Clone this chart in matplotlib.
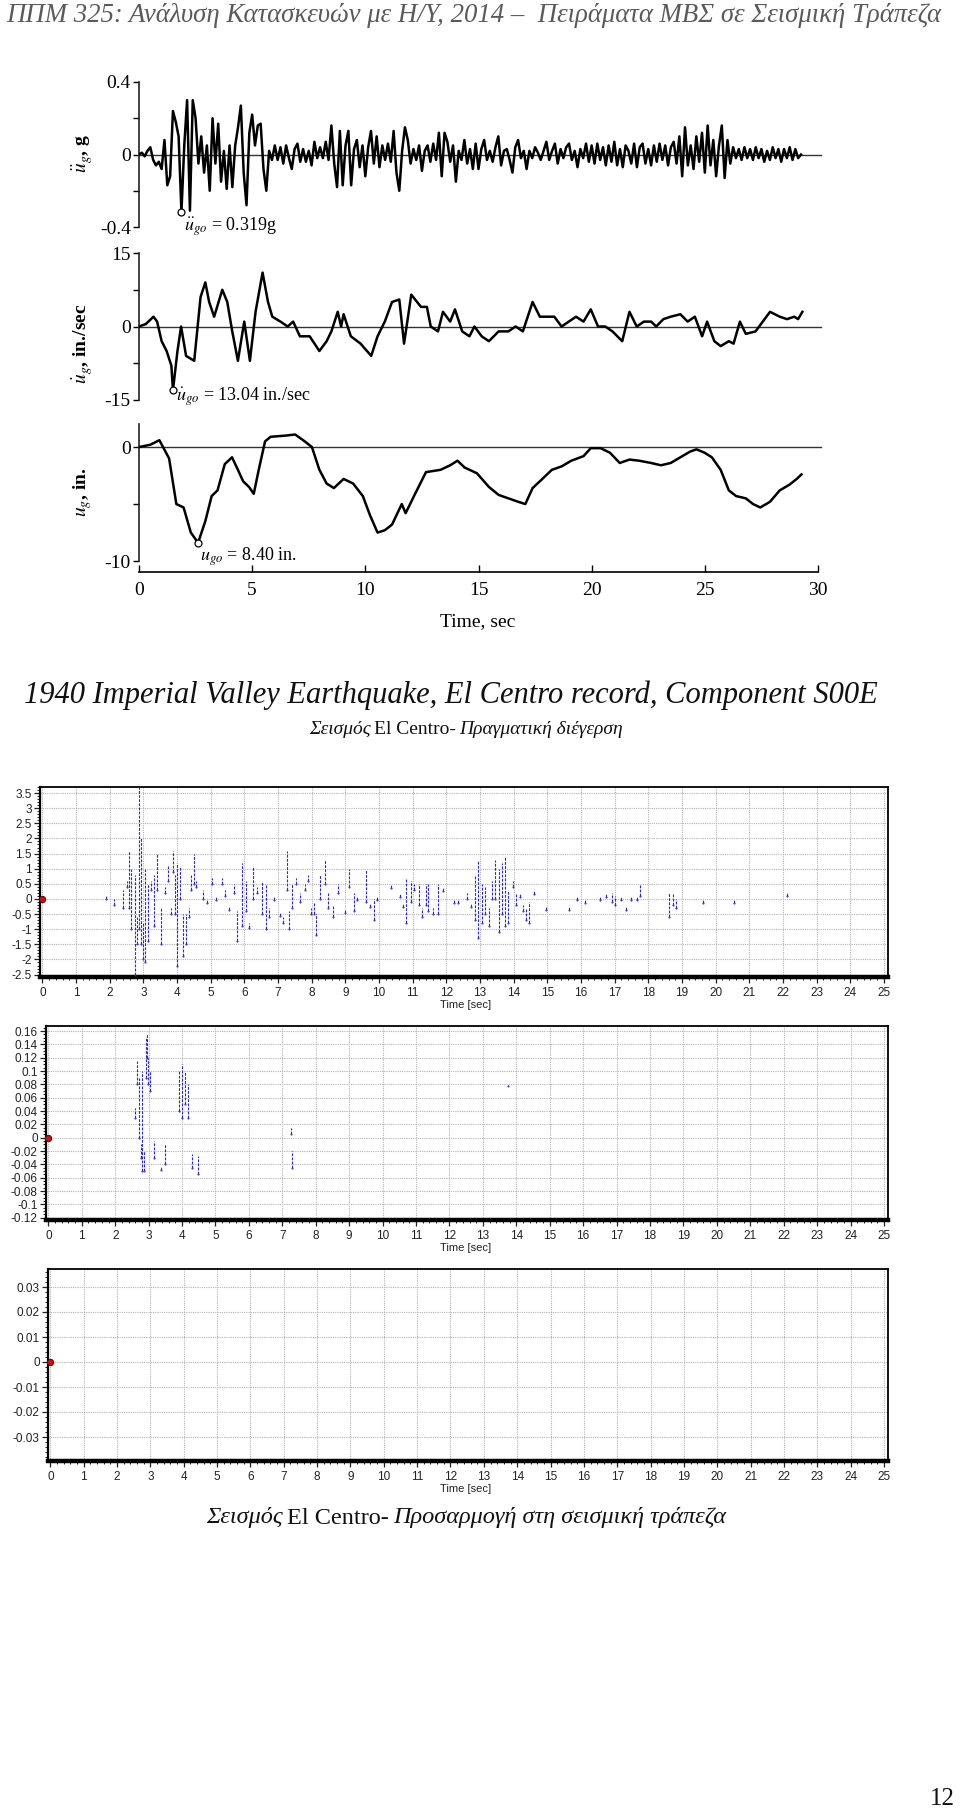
import matplotlib
matplotlib.use("Agg")
import matplotlib.pyplot as plt
import numpy as np
from matplotlib.ticker import MultipleLocator, FixedLocator

W, H = 960, 1811

HEADER = "ΠΠΜ 325: Ανάλυση Κατασκευών με Η/Υ, 2014 –  Πειράματα ΜΒΣ σε Σεισμική Τράπεζα"
CAPTION = "1940 Imperial Valley Earthquake, El Centro record, Component S00E"
SUB_TOP = [("Σεισμός", "italic"), ("El Centro-", "normal"), ("Πραγματική διέγερση", "italic")]
SUB_BOTTOM = [("Σεισμός", "italic"), ("El Centro-", "normal"), ("Προσαρμογή στη σεισμική τράπεζα", "italic")]
PAGE_NO = "12"

# ground acceleration (g), sampled every 0.125 s
acc_dt = 0.125
acc_g = [
    0.0, 0.01, -0.01, 0.02, 0.04, -0.03, -0.06, -0.04,
    -0.08, 0.08, -0.17, -0.12, 0.24, 0.18, 0.10, -0.319,
    0.05, 0.30, -0.31, 0.30, 0.20, -0.05, 0.10, -0.10,
    0.05, -0.20, 0.20, -0.05, 0.17, -0.15, 0.02, -0.19,
    0.05, -0.18, 0.05, 0.15, 0.27, -0.10, -0.28, 0.12,
    0.22, 0.05, 0.16, 0.17, -0.08, -0.20, 0.02, -0.03,
    0.05, -0.03, 0.04, -0.05, 0.05, -0.02, -0.08, 0.03,
    0.06, -0.04, 0.03, -0.04, 0.02, -0.06, 0.07, -0.02,
    0.04, -0.02, 0.07, -0.03, 0.16, -0.05, -0.18, 0.13,
    -0.17, 0.05, 0.13, -0.17, 0.03, 0.08, -0.07, 0.05,
    -0.12, 0.04, 0.13, -0.05, 0.10, -0.07, 0.05, -0.03,
    0.06, -0.04, 0.13, -0.10, -0.20, 0.02, 0.15, 0.08,
    -0.05, 0.03, -0.03, 0.05, -0.09, 0.02, 0.05, -0.04,
    0.06, -0.03, 0.12, -0.12, 0.12, 0.07, -0.04, 0.05,
    -0.15, 0.02, -0.03, 0.08, -0.05, 0.03, -0.08, 0.06,
    -0.08, 0.03, 0.08, -0.03, 0.02, -0.04, 0.04, 0.10,
    -0.06, 0.02, 0.03, -0.03, -0.10, 0.04, 0.08, -0.02,
    0.02, -0.08, 0.02, -0.02, 0.04, 0.01, -0.03, 0.02,
    0.07, -0.03, 0.02, 0.06, -0.05, 0.03, -0.02, 0.04,
    0.06, -0.03, 0.02, -0.07, 0.03, -0.02, 0.06, -0.04,
    0.05, -0.05, 0.06, -0.03, 0.04, -0.06, 0.05, -0.04,
    0.07, -0.06, 0.03, -0.07, 0.05, 0.02, -0.05, 0.06,
    -0.07, 0.04, 0.06, -0.05, 0.03, -0.06, 0.05, -0.04,
    0.06, -0.03, 0.05, -0.06, 0.04, 0.07, -0.05, 0.10,
    -0.12, 0.15, -0.06, 0.05, -0.08, 0.10, -0.04, 0.12,
    -0.10, 0.16, -0.06, 0.08, -0.12, 0.05, 0.16, -0.13,
    0.08, -0.05, 0.04, -0.02, 0.03, -0.03, 0.04, -0.02,
    0.03, -0.03, 0.04, -0.02, 0.03, -0.04, 0.02, -0.03,
    0.04, -0.02, 0.03, -0.04, 0.03, -0.02, 0.04, -0.03,
    0.03, -0.02, 0.0,
]

# ground velocity (in./sec)
vel_t = [0, 0.3, 0.64, 0.8, 1.0, 1.22, 1.43, 1.5, 1.7, 1.86, 2.08, 2.44, 2.72, 2.93,
         3.1, 3.32, 3.68, 3.9, 4.12, 4.37, 4.65, 4.9, 5.15, 5.46, 5.7, 5.89, 6.25,
         6.57, 6.81, 7.11, 7.54, 7.97, 8.29, 8.5, 8.78, 8.93, 9.04, 9.36, 9.79, 10.26,
         10.54, 10.86, 11.18, 11.5, 11.71, 12.03, 12.46, 12.72, 12.89, 13.21, 13.43,
         13.75, 13.96, 14.28, 14.6, 14.82, 15.14, 15.46, 15.89, 16.32, 16.64, 16.96,
         17.39, 17.71, 18.03, 18.35, 18.67, 18.99, 19.31, 19.64, 19.96, 20.28, 20.6,
         20.92, 21.35, 21.67, 21.99, 22.31, 22.63, 22.85, 23.17, 23.49, 23.92, 24.24,
         24.56, 24.88, 25.1, 25.42, 25.7, 26.06, 26.27, 26.55, 26.81, 27.24, 27.56,
         27.88, 28.31, 28.63, 28.95, 29.12, 29.31]
vel_in = [0, 0.5, 2, 1, -3, -5, -8, -13.04, -5, 0, -6, -7, 6, 9,
          5, 2, 7.5, 5, -1, -7, 1, -7, 3, 11, 5, 2, 1,
          0, 1, -2, -2, -5, -3, -1, 3, 0, 2.5, -2, -3.5, -6,
          -2, 1, 5, 5.5, -3.5, 6.5, 4, 4, 0, -1, 3,
          1, 3.5, -1, -2, 0, -2, -3, -1, -1, 0, -1,
          5, 2, 2, 2, 0, 1, 2, 1, 3.5, 0, 0,
          -1, -3, 3, 0, 1, 1, 0, 1.5, 2, 2.5, 1,
          2, -2, 1, -3, -4, -3, -3.5, 1, -1.5, -1, 1,
          3, 2, 1.5, 2, 1.5, 3]

# ground displacement (in.)
disp_t = [0, 0.5, 0.9, 1.33, 1.65, 1.97, 2.29, 2.61, 2.93, 3.21, 3.47, 3.79, 4.11,
          4.37, 4.6, 4.86, 5.07, 5.29, 5.57, 5.82, 6.47, 6.9, 7.32, 7.64, 7.97, 8.29,
          8.61, 9.04, 9.46, 9.89, 10.21, 10.54, 10.86, 11.18, 11.61, 11.78, 12.25,
          12.68, 13.32, 13.75, 14.07, 14.39, 14.93, 15.46, 15.89, 16.32, 16.75, 17.07,
          17.39, 17.82, 18.24, 18.67, 19.1, 19.64, 19.96, 20.39, 20.81, 21.24, 21.67,
          22.1, 22.63, 23.06, 23.49, 23.92, 24.35, 24.63, 24.99, 25.31, 25.7, 26.06,
          26.38, 26.81, 27.13, 27.45, 27.88, 28.31, 28.74, 29.06, 29.27]
disp_in = [0, 0.2, 0.6, -1.0, -5.0, -5.3, -7.5, -8.40, -6.5, -4.3, -3.8, -1.5, -0.9,
           -2.0, -3.0, -3.5, -4.1, -2.0, 0.5, 0.9, 1.0, 1.1, 0.5, 0.0, -2.0, -3.2,
           -3.6, -2.8, -3.2, -4.3, -6.0, -7.5, -7.3, -6.8, -5.0, -5.8, -3.9,
           -2.2, -2.0, -1.6, -1.2, -1.8, -2.3, -3.5, -4.2, -4.5, -4.8, -5.0,
           -3.6, -2.8, -2.0, -1.7, -1.2, -0.8, -0.1, -0.1, -0.5, -1.4, -1.1,
           -1.2, -1.4, -1.6, -1.4, -0.9, -0.4, -0.2, -0.5, -0.9, -2.0, -3.8,
           -4.3, -4.5, -5.0, -5.3, -4.8, -3.8, -3.3, -2.8, -2.4]

# shake table record 1: visible trace pieces (time, low, high)
rec1_t = [1.9, 2.14, 2.41, 2.5, 2.56, 2.63, 2.74, 2.81, 2.87, 2.94, 2.99, 3.05, 3.14, 3.23,
          3.32, 3.41, 3.51, 3.65, 3.74, 3.82, 3.87, 3.93, 4.0, 4.09, 4.18, 4.27, 4.36,
          4.42, 4.49, 4.57, 4.78, 4.88, 5.04, 5.15, 5.33, 5.42, 5.55, 5.7, 5.79, 5.93,
          6.06, 6.15, 6.25, 6.39, 6.52, 6.65, 6.74, 6.88, 7.07, 7.16, 7.27, 7.34, 7.43,
          7.52, 7.65, 7.8, 7.89, 7.98, 8.07, 8.14, 8.25, 8.4, 8.49, 8.62, 8.77, 8.98,
          9.11, 9.26, 9.35, 9.62, 9.72, 9.84, 9.93, 10.35, 10.63, 10.72, 10.81, 10.94,
          11.03, 11.18, 11.29, 11.39, 11.47, 11.6, 11.76, 11.91, 12.24, 12.36, 12.6,
          12.73, 12.86, 12.95, 13.06, 13.15, 13.28, 13.37, 13.46, 13.55, 13.64, 13.73,
          13.82, 13.97, 14.06, 14.19, 14.28, 14.37, 14.46, 14.61, 14.97, 15.63, 15.87,
          16.11, 16.56, 16.75, 16.93, 17.02, 17.2, 17.33, 17.48, 17.66, 17.75, 18.61,
          18.72, 18.81, 19.61, 20.54, 22.13]
rec1_lo = [0.0, -0.2, -0.3, 0.4, -0.3, -1.0, -2.5, -1.5, -1.0, -1.5, -2.0, -2.1, -1.4, 0.3,
           -0.9, 0.3, -1.5, 0.2, 0.6, -0.5, 0.9, -0.5, -2.2, 0.0, -1.9, -1.5, -0.6,
           0.3, 0.5, 0.4, 0.0, -0.15, 0.5, -0.05, 0.5, 0.1, -0.35, 0.2, -1.4, -0.9,
           -0.4, -0.95, 0.0, 0.2, -0.5, -1.0, -0.6, -0.05, -0.55, -0.8, 0.3, -1.0, -0.3,
           0.5, -0.1, 0.3, 0.6, -0.5, -0.5, -1.2, 0.0, 0.5, -0.3, -0.6, 0.2, -0.45,
           0.4, -0.4, -0.05, -0.1, -0.25, -0.7, -0.05, 0.35, 0.05, -0.25, -0.8, -0.1,
           0.3, -0.2, -0.6, -0.2, -0.4, -0.5, -0.5, 0.25, -0.15, -0.15, 0.0,
           -0.25, -0.7, -1.3, -0.8, -0.5, -0.9, 0.0, 0.0, -1.1, -0.5, -0.9,
           -0.8, 0.4, -0.2, 0.05, -0.4, -0.7, -0.8, 0.15, -0.35, -0.35, -0.05,
           -0.15, -0.05, 0.05, -0.1, -0.2, -0.05, -0.35, -0.05, -0.05, 0.1, -0.6,
           -0.2, -0.3, -0.15, -0.15, 0.1]
rec1_hi = [0.1, 0.0, 0.3, 0.6, 1.6, 1.0, 0.8, -0.6, 3.7, 2.0, -0.8, 1.0, 0.5, 0.6,
           0.8, 1.5, -0.3, 0.4, 1.1, -0.3, 1.6, 0.8, 1.2, 1.1, -0.5, -0.5, -0.3,
           0.8, 1.5, 0.6, 0.3, -0.05, 0.7, 0.05, 0.7, 0.3, -0.25, 0.5, -0.4, 1.2,
           0.6, -0.8, 1.1, 0.4, 0.6, 0.5, -0.3, 0.05, -0.45, -0.6, 1.6, -0.4, 0.5,
           0.7, 0.2, 0.5, 0.8, -0.3, -0.1, -0.5, 0.8, 1.3, 0.2, -0.2, 0.5, -0.35,
           1.0, 0.2, 0.05, 1.0, -0.15, 0.0, 0.05, 0.45, 0.15, -0.15, 0.7, 0.6,
           0.5, 0.5, -0.3, 0.5, 0.5, -0.3, 0.5, 0.35, -0.05, -0.05, 0.2,
           -0.15, 0.8, 1.3, 0.5, 0.4, -0.3, 0.6, 1.3, 1.0, 1.2, 1.4,
           0.3, 0.6, 0.2, 0.15, -0.2, -0.3, -0.1, 0.25, -0.25, -0.25, 0.05,
           -0.05, 0.05, 0.15, 0.2, 0.1, 0.05, -0.25, 0.05, 0.05, 0.5, 0.2,
           0.2, 0.0, -0.05, 0.0, 0.2]

# shake table record 2: visible trace pieces (time, low, high)
rec2_t = [2.58, 2.65, 2.72, 2.76, 2.8, 2.85, 2.91, 2.94, 2.98, 3.04, 3.15, 3.38, 3.5,
          3.9, 3.99, 4.08, 4.18, 4.29, 4.47, 7.27, 7.28, 13.76]
rec2_lo = [0.03, 0.08, 0.0, -0.03, -0.05, -0.05, 0.09, 0.12, 0.08, 0.07, -0.03, -0.048, -0.04,
           0.04, 0.03, 0.05, 0.03, -0.045, -0.055, 0.005, -0.045, 0.077]
rec2_hi = [0.045, 0.115, 0.09, -0.01, 0.10, -0.02, 0.15, 0.155, 0.12, 0.10, -0.005, -0.042, -0.01,
           0.10, 0.11, 0.10, 0.08, -0.025, -0.028, 0.015, -0.02, 0.079]

start_t = [0.0]
start_v = [0.0]

rec_yticks = [
    [-2.5, -2, -1.5, -1, -0.5, 0, 0.5, 1, 1.5, 2, 2.5, 3, 3.5],
    [-0.12, -0.1, -0.08, -0.06, -0.04, -0.02, 0, 0.02, 0.04, 0.06, 0.08, 0.1, 0.12, 0.14, 0.16],
    [-0.03, -0.02, -0.01, 0, 0.01, 0.02, 0.03],
]
rec_ylabels = [
    ["-2.5", "-2", "-1.5", "-1", "-0.5", "0", "0.5", "1", "1.5", "2", "2.5", "3", "3.5"],
    ["-0.12", "-0.1", "-0.08", "-0.06", "-0.04", "-0.02", "0", "0.02", "0.04", "0.06",
     "0.08", "0.1", "0.12", "0.14", "0.16"],
    ["-0.03", "-0.02", "-0.01", "0", "0.01", "0.02", "0.03"],
]

plt.rcParams.update({
    "font.family": ["Liberation Serif", "DejaVu Serif"],
    "mathtext.fontset": "stix",
    "axes.linewidth": 1.2,
})

BLUE = "#2a2ac0"
SANS = ["Liberation Sans Narrow", "Liberation Sans", "DejaVu Sans"]

fig = plt.figure(figsize=(W / 100, H / 100), dpi=100, facecolor="white")
renderer = fig.canvas.get_renderer()


def add_ax(left, top, right, bottom):
    return fig.add_axes([left / W, 1 - bottom / H, (right - left) / W, (bottom - top) / H])


def text_runs(runs, cx, cy, size):
    objs = []
    for s, style in runs:
        objs.append(fig.text(0, 1 - cy / H, s, fontsize=size, style=style,
                             va="center", ha="left", color="#111111"))
    widths = [o.get_window_extent(renderer).width for o in objs]
    gap = size * 0.25
    x = cx - (sum(widths) + gap * (len(objs) - 1)) / 2
    for o, w in zip(objs, widths):
        o.set_x(x / W)
        x += w + gap


# header line
fig.text(6 / W, 1 - 15 / H, HEADER, fontsize=19.3, style="italic", color="#5a5a5a",
         va="center", ha="left")

# ---------- top: Chopra style record ----------
acc_t = np.arange(len(acc_g)) * acc_dt
panels = [
    (add_ax(139, 82, 818, 227), acc_t, acc_g, (-0.4, 0.4),
     [-0.4, -0.2, 0, 0.2, 0.4], ["-0.4", "", "0", "", "0.4"]),
    (add_ax(139, 253, 818, 400), vel_t, vel_in, (-15, 15),
     [-15, -7.5, 0, 7.5, 15], ["-15", "", "0", "", "15"]),
    (add_ax(139, 424, 818, 572), disp_t, disp_in, (-10.96, 2.02),
     [-10, -5, 0], ["-10", "", "0"]),
]
for i, (ax, t, v, ylim, yt, yl) in enumerate(panels):
    ax.plot(t, v, color="black", lw=1.8, zorder=3)
    ax.axhline(0, xmin=0, xmax=1.005, color="#333333", lw=1.0, clip_on=False, zorder=2)
    ax.set_xlim(0, 30)
    ax.set_ylim(*ylim)
    ax.set_yticks(yt)
    ax.set_yticklabels(yl, fontsize=14)
    ax.tick_params(axis="y", direction="out", length=4, width=1.0, pad=2)
    for side in ("top", "right"):
        ax.spines[side].set_visible(False)
    ax.spines["left"].set_color("#222222")
    if i < 2:
        ax.spines["bottom"].set_visible(False)
        ax.set_xticks([])
    else:
        ax.spines["left"].set_bounds(-10, 2)
        ax.set_xticks(range(0, 31, 5))
        ax.tick_params(axis="x", direction="in", length=5, width=1.0, pad=7, labelsize=14)
    ax.patch.set_alpha(0)
    k = int(np.argmin(v))
    ax.plot([t[k]], [v[k]], "o", ms=5, mfc="white", mec="black", mew=0.9, zorder=4)

panels[0][0].text(2.0, -0.4, r"$\ddot{u}_{go}$ = 0.319g", fontsize=13, va="center", ha="left")
panels[1][0].text(1.65, -14.4, r"$\dot{u}_{go}$ = 13.04 in./sec", fontsize=13, va="center", ha="left")
panels[2][0].text(2.7, -9.6, r"$u_{go}$ = 8.40 in.", fontsize=13, va="center", ha="left")

fig.text(83 / W, 1 - 153 / H, r"$\ddot{u}_g$, g", rotation=90, fontsize=14,
         va="center", ha="center", fontweight="bold")
fig.text(83 / W, 1 - 344 / H, r"$\dot{u}_g$, in./sec", rotation=90, fontsize=14,
         va="center", ha="center", fontweight="bold")
fig.text(83 / W, 1 - 492 / H, r"$u_g$, in.", rotation=90, fontsize=14,
         va="center", ha="center", fontweight="bold")
fig.text(478 / W, 1 - 622 / H, "Time, sec", fontsize=14, va="center", ha="center")

fig.text(451 / W, 1 - 695 / H, CAPTION, fontsize=22, style="italic", va="center",
         ha="center", color="#111111")
text_runs(SUB_TOP, 466, 729, 14)

# ---------- shake table records ----------
rec_axes = [
    (add_ax(40, 787, 888, 977), (-2.58, 3.7), rec1_t, rec1_lo, rec1_hi, 0.1, 1005),
    (add_ax(46, 1026, 888, 1220), (-0.1235, 0.1675), rec2_t, rec2_lo, rec2_hi, 0.005, 1248),
    (add_ax(48, 1269, 888, 1461), (-0.0396, 0.0372), [], [], [], 0.002, 1489),
]
for j, (ax, ylim, st, slo, shi, yminor, time_y) in enumerate(rec_axes):
    ax.set_xlim(-0.07, 25.12)
    ax.set_ylim(*ylim)
    ax.xaxis.set_major_locator(MultipleLocator(1))
    ax.xaxis.set_minor_locator(MultipleLocator(0.2))
    ax.yaxis.set_major_locator(FixedLocator(rec_yticks[j]))
    ax.yaxis.set_minor_locator(MultipleLocator(yminor))
    ax.set_yticklabels(rec_ylabels[j])
    ax.grid(True, which="major", color="#b4b4b4", lw=0.8, ls=(0, (1, 1)))
    ax.set_axisbelow(True)
    ax.tick_params(axis="both", which="major", length=4, width=0.9, labelsize=8.5,
                   colors="#222222", pad=2)
    ax.tick_params(axis="both", which="minor", length=2.5, width=0.7, colors="#222222")
    ax.tick_params(axis="x", which="major", pad=3)
    for lab in ax.get_xticklabels() + ax.get_yticklabels():
        lab.set_family(SANS)
    ax.spines["bottom"].set_linewidth(3.2)
    ax.spines["left"].set_linewidth(1.6)
    ax.spines["top"].set_linewidth(1.3)
    ax.spines["right"].set_linewidth(1.3)
    if st:
        ax.vlines(st, slo, shi, colors=BLUE, linewidth=0.8, linestyles=(0, (2.5, 1.2)), zorder=3)
        ax.plot(st, slo, ".", color=BLUE, ms=1.0, zorder=3)
    ax.plot(start_t, start_v, "o", ms=4.5, mfc="#cc1111", mec="#551111", mew=0.8,
            clip_on=False, zorder=5)
    fig.text(466 / W, 1 - time_y / H, "Time [sec]", fontsize=8, family=SANS,
             va="center", ha="center", color="#222222")

text_runs(SUB_BOTTOM, 466, 1518, 17.5)

fig.text(955 / W, 1 - 1799 / H, PAGE_NO, fontsize=18, va="center", ha="right", color="#111111")

fig.savefig("out.png", dpi=100, facecolor="white")
